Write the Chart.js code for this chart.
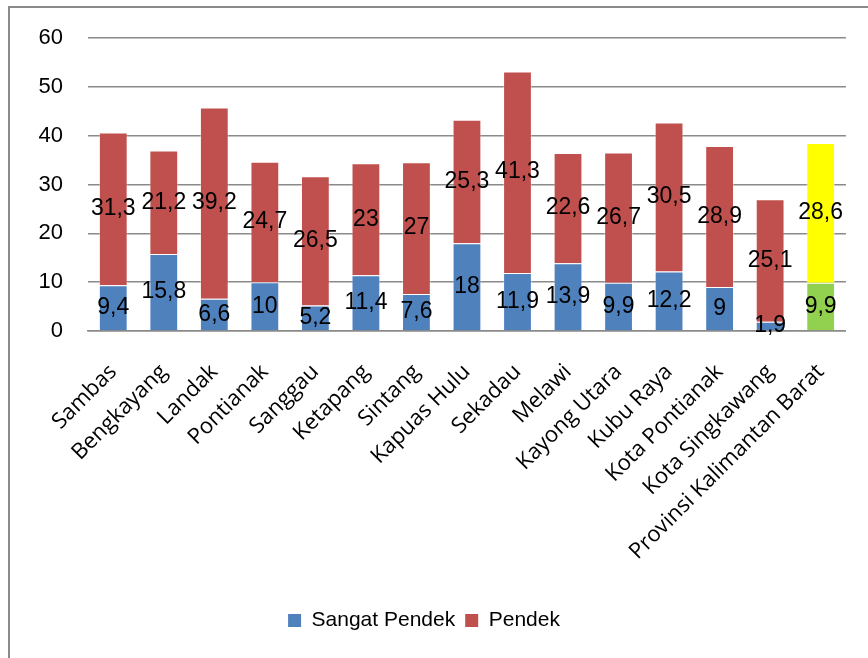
<!DOCTYPE html>
<html>
<head>
<meta charset="utf-8">
<script src="https://cdn.jsdelivr.net/npm/chart.js@4.4.1/dist/chart.umd.min.js"></script>
<style>
  html, body { margin: 0; padding: 0; background: #fff; }
  #wrap { position: relative; width: 868px; height: 658px; overflow: hidden; }
  #frame { position: absolute; left: 8px; top: 6px; width: 900px; height: 700px; border: 2px solid #8a8a8a; }
  #chart { position: absolute; left: 0; top: 0; }
</style>
</head>
<body>
<div id="wrap">
  <div id="frame"></div>
  <canvas id="chart" width="868" height="658"></canvas>
</div>
<script>
// Kabupaten / kota
const categories = ['Sambas', 'Bengkayang', 'Landak', 'Pontianak', 'Sanggau', 'Ketapang', 'Sintang',
    'Kapuas Hulu', 'Sekadau', 'Melawi', 'Kayong Utara', 'Kubu Raya', 'Kota Pontianak',
    'Kota Singkawang', 'Provinsi Kalimantan Barat'];
const sangatPendek = [9.4, 15.8, 6.6, 10, 5.2, 11.4, 7.6, 18, 11.9, 13.9, 9.9, 12.2, 9, 1.9, 9.9];
const pendek = [31.3, 21.2, 39.2, 24.7, 26.5, 23, 27, 25.3, 41.3, 22.6, 26.7, 30.5, 28.9, 25.1, 28.6];
const yTicks = [0, 10, 20, 30, 40, 50, 60];

const BLUE = '#4F81BD', RED = '#C0504D', GREEN = '#92D050', YELLOW = '#FFFF00';
// last bar (provinsi) is highlighted
const colorsFor = (base, last) => categories.map((c, i) => i === categories.length - 1 ? last : base);

const fmt = v => String(v).replace('.', ',');

// draw the value in the middle of every segment
const valueLabels = {
    id: 'valueLabels',
    afterDatasetsDraw(chart) {
        const ctx = chart.ctx;
        ctx.save();
        ctx.font = '23px "Liberation Sans", Arial, sans-serif';
        ctx.fillStyle = '#000';
        ctx.textAlign = 'center';
        ctx.textBaseline = 'middle';
        chart.data.datasets.forEach((ds, di) => {
            chart.getDatasetMeta(di).data.forEach((bar, i) => {
                const p = bar.getProps(['x', 'y', 'base'], true);
                ctx.fillText(fmt(ds.data[i]), p.x, (p.y + p.base) / 2);
            });
        });
        ctx.restore();
    }
};

new Chart(document.getElementById('chart'), {
    type: 'bar',
    data: {
        labels: categories,
        datasets: [{
            label: 'Sangat Pendek',
            data: sangatPendek,
            backgroundColor: colorsFor(BLUE, GREEN),
            borderColor: 'rgba(255,255,255,0.35)',
            borderWidth: 1,
            categoryPercentage: 1,
            barPercentage: 0.57
        }, {
            label: 'Pendek',
            data: pendek,
            backgroundColor: colorsFor(RED, YELLOW),
            borderColor: 'rgba(255,255,255,0.35)',
            borderWidth: 1,
            categoryPercentage: 1,
            barPercentage: 0.57
        }]
    },
    options: {
        responsive: false,
        animation: false,
        layout: { padding: { top: 31, right: 20, bottom: 17, left: 0 } },
        scales: {
            x: {
                stacked: true,
                grid: { display: false, drawTicks: false },
                border: { color: '#8a8a8a', width: 1.5 },
                ticks: {
                    color: '#000',
                    font: { family: '"Open Sans", sans-serif', size: 22 },
                    minRotation: 45,
                    maxRotation: 45,
                    padding: 28,
                    autoSkip: false
                },
                afterFit(scale) { scale.height = 269; }
            },
            y: {
                stacked: true,
                min: 0,
                max: 60,
                afterBuildTicks(scale) { scale.ticks = yTicks.map(v => ({ value: v })); },
                grid: { color: '#8a8a8a', lineWidth: 1.5, drawTicks: false },
                border: { display: false },
                ticks: {
                    color: '#000',
                    font: { family: '"Liberation Sans", Arial, sans-serif', size: 22 },
                    padding: 25
                },
                afterFit(scale) { scale.width = 88; }
            }
        },
        plugins: {
            legend: {
                position: 'bottom',
                labels: {
                    color: '#000',
                    font: { family: '"Liberation Sans", Arial, sans-serif', size: 21 },
                    boxWidth: 13,
                    boxHeight: 13,
                    padding: 10,
                    generateLabels(chart) {
                        return chart.data.datasets.map((ds, i) => ({
                            text: ds.label,
                            fillStyle: i === 0 ? BLUE : RED,
                            strokeStyle: i === 0 ? BLUE : RED,
                            lineWidth: 0,
                            datasetIndex: i
                        }));
                    }
                }
            },
            tooltip: { enabled: false }
        }
    },
    plugins: [valueLabels]
});
</script>
</body>
</html>
